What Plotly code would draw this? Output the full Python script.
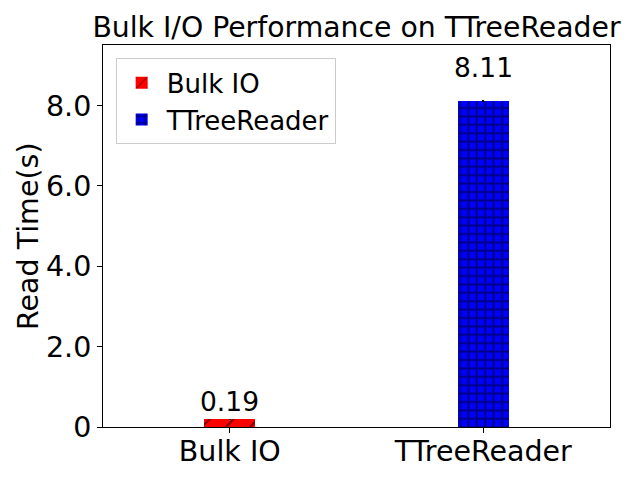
import plotly.graph_objects as go

categories = ["Bulk IO", "TTreeReader"]
read_times = [0.19, 8.11]
errors = [0.01, 0.03]
bar_colors = ["#ff0000", "#0000ff"]
hatches = ["/", "+"]
hatch_sizes = [17, 8.4]
hatch_solidity = [0.12, 0.42]
ytick_vals = [0, 2, 4, 6, 8]
ytick_text = ["0", "2.0", "4.0", "6.0", "8.0"]
y_label = "Read Time(s)"

FONT = "DejaVu Sans"

fig = go.Figure()
for i, cat in enumerate(categories):
    fig.add_trace(go.Bar(
        x=[cat], y=[read_times[i]], name=cat, width=0.2,
        marker=dict(color=bar_colors[i], line=dict(width=0),
                    pattern=dict(shape=hatches[i], fgcolor="black",
                                 bgcolor=bar_colors[i], size=hatch_sizes[i],
                                 solidity=hatch_solidity[i], fillmode="overlay")),
        error_y=dict(type="data", array=[errors[i]], color="black",
                     thickness=2, width=0, visible=True),
        showlegend=True,
    ))
    fig.add_annotation(x=cat, y=read_times[i] * 1.05 + 0.15, text=f"{read_times[i]:.2f}",
                       showarrow=False, yanchor="bottom", yshift=-6,
                       font=dict(family=FONT, size=26.5, color="black"))

# y-axis label as rotated text
fig.add_annotation(x=0, y=0.5, xref="paper", yref="paper", text=y_label,
                   textangle=-90, showarrow=False, xanchor="center", yanchor="middle",
                   xshift=-75, font=dict(family=FONT, size=28.5, color="black"))

# page body has an 8px margin; figure is sized/margined to compensate
fig.update_layout(
    width=632, height=472,
    margin=dict(l=95, r=30, t=37, b=53, autoexpand=False),
    paper_bgcolor="white", plot_bgcolor="white",
    font=dict(family=FONT, color="black"),
    title=dict(text="Bulk I/O Performance on TTreeReader", x=0.5, xref="paper",
               y=1, yref="paper", yanchor="bottom", pad=dict(b=8),
               font=dict(family=FONT, size=28.3, color="black")),
    legend=dict(x=0.025, y=0.965, xanchor="left", yanchor="top",
                bgcolor="rgba(255,255,255,0.8)", bordercolor="#cccccc", borderwidth=1,
                font=dict(family=FONT, size=26, color="black"),
                tracegroupgap=4, itemwidth=40),
    bargap=0,
)
fig.update_xaxes(range=[-0.5, 1.5], showline=True, linecolor="black", linewidth=1,
                 mirror=True, ticks="outside", ticklen=5, tickcolor="black",
                 ticklabelstandoff=-6,
                 tickfont=dict(family=FONT, size=28.5, color="black"), showgrid=False)
fig.update_yaxes(range=[0, 9.51], showline=True, linecolor="black", linewidth=1,
                 mirror=True, ticks="outside", ticklen=5, tickcolor="black",
                 tickvals=ytick_vals, ticktext=ytick_text,
                 tickfont=dict(family=FONT, size=28.5, color="black"), showgrid=False,
                 zeroline=False)

fig.write_html("out.html")
